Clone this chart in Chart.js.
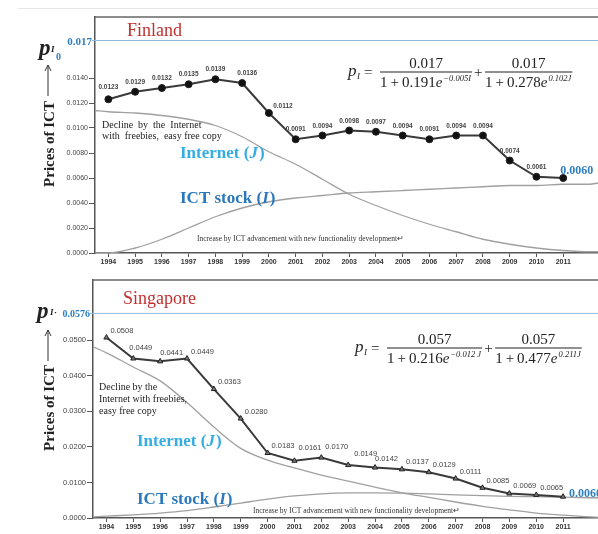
<!DOCTYPE html>
<html>
<head>
<meta charset="utf-8">
<script src="https://cdn.jsdelivr.net/npm/chart.js@4.4.1/dist/chart.umd.min.js"></script>
<style>
  html, body { margin: 0; padding: 0; background: #fff; }
  #wrap { position: relative; width: 598px; height: 534px; overflow: hidden; }
  #fin { position: absolute; left: 0; top: 0; }
  #sgp { position: absolute; left: 0; top: 268px; }
  .edge { position: absolute; left: 18px; right: 0; top: 8px; height: 1px; background: #e6e6e6; }
</style>
</head>
<body>
<div id="wrap">
  <div class="edge"></div>
  <canvas id="fin" width="598" height="268"></canvas>
  <canvas id="sgp" width="598" height="266"></canvas>
</div>
<script>
// years on the x axis
const years = [1994, 1995, 1996, 1997, 1998, 1999, 2000, 2001, 2002, 2003,
               2004, 2005, 2006, 2007, 2008, 2009, 2010, 2011];
// sample years for the two fitted curves (they run past the first and last year)
const curveYears = [1993.5, 1994, 1995, 1996, 1997, 1998, 1999, 2000, 2001, 2002, 2003,
                    2004, 2005, 2006, 2007, 2008, 2009, 2010, 2011, 2012, 2012.3];

// Finland
const finlandPrices   = [0.0123, 0.0129, 0.0132, 0.0135, 0.0139, 0.0136, 0.0112, 0.0091, 0.0094,
                         0.0098, 0.0097, 0.0094, 0.0091, 0.0094, 0.0094, 0.0074, 0.0061, 0.0060];
const finlandInternet = [0.0114, 0.0113, 0.0112, 0.0110, 0.0107, 0.0102, 0.0093, 0.0081, 0.0071, 0.0059,
                         0.0047, 0.0038, 0.0030, 0.0023, 0.0017, 0.0011, 0.0007, 0.0004, 0.0002, 0.0001, 0.0001];
const finlandStock    = [0.0000, 0.0000, 0.0004, 0.0011, 0.0020, 0.0029, 0.0036, 0.0041, 0.0044, 0.0046,
                         0.0048, 0.0049, 0.0050, 0.0051, 0.0052, 0.0053, 0.0054, 0.0054, 0.0055, 0.0055, 0.0056];
const finlandCeiling  = 0.017;
const finlandYTicks   = [0, 0.002, 0.004, 0.006, 0.008, 0.010, 0.012, 0.014];

// Singapore
const singaporePrices   = [0.0508, 0.0449, 0.0441, 0.0449, 0.0363, 0.0280, 0.0183, 0.0161, 0.0170,
                           0.0149, 0.0142, 0.0137, 0.0129, 0.0111, 0.0085, 0.0069, 0.0065, 0.0060];
const singaporeInternet = [0.0482, 0.0465, 0.0425, 0.0386, 0.0325, 0.0256, 0.0196, 0.0163, 0.0141, 0.0121,
                           0.0104, 0.0087, 0.0071, 0.0058, 0.0045, 0.0033, 0.0023, 0.0014, 0.0008, 0.0003, 0.0002];
const singaporeStock    = [0.0003, 0.0005, 0.0009, 0.0014, 0.0021, 0.0031, 0.0042, 0.0053, 0.0062, 0.0068,
                           0.0071, 0.0071, 0.0070, 0.0068, 0.0065, 0.0063, 0.0061, 0.0060, 0.0059, 0.0057, 0.0057];
const singaporeCeiling  = 0.0576;
const singaporeYTicks   = [0, 0.01, 0.02, 0.03, 0.04, 0.05];

const SERIF = '"Liberation Serif", "Times New Roman", serif';
const SANS  = '"Liberation Sans", Arial, sans-serif';
const BLUE  = '#2f7fc1';

function pairs(xs, ys) { return xs.map((x, i) => ({ x, y: ys[i] })); }

function text(ctx, s, x, y, font, color, align) {
  ctx.font = font;
  ctx.fillStyle = color || '#222';
  ctx.textAlign = align || 'left';
  ctx.textBaseline = 'alphabetic';
  ctx.fillText(s, x, y);
}

// one fraction  num / (base e^exp), returns its width
function fraction(ctx, left, bar, num, base, exp) {
  ctx.font = '15px ' + SERIF;
  const wb = ctx.measureText(base).width;
  ctx.font = 'italic 15px ' + SERIF;
  const we = ctx.measureText('e').width;
  ctx.font = 'italic 8.5px ' + SERIF;
  const wx = ctx.measureText(exp).width;
  const w = wb + we + wx + 2;
  text(ctx, base, left, bar + 15, '15px ' + SERIF, '#222');
  text(ctx, 'e', left + wb, bar + 15, 'italic 15px ' + SERIF, '#222');
  text(ctx, exp, left + wb + we + 1, bar + 9, 'italic 8.5px ' + SERIF, '#222');
  ctx.fillStyle = '#222';
  ctx.fillRect(left, bar - 0.5, w, 1);
  text(ctx, num, left + w / 2, bar - 4, '15px ' + SERIF, '#222', 'center');
  return w;
}

function formula(ctx, x, bar, num, b1, e1, b2, e2) {
  text(ctx, 'p', x, bar + 4, 'italic 17px ' + SERIF);
  text(ctx, 'I', x + 9, bar + 7, 'italic 9px ' + SERIF);
  text(ctx, '=', x + 16, bar + 5, '15px ' + SERIF);
  const l1 = x + 32;
  const w1 = fraction(ctx, l1, bar, num, b1, e1);
  text(ctx, '+', l1 + w1 + 2, bar + 5, '15px ' + SERIF);
  fraction(ctx, l1 + w1 + 13, bar, num, b2, e2);
}

function yTitle(ctx, cx, cy, arrowTop, arrowBottom) {
  ctx.save();
  ctx.translate(cx, cy);
  ctx.rotate(-Math.PI / 2);
  ctx.font = 'bold 15px ' + SERIF;
  ctx.fillStyle = '#222';
  ctx.textAlign = 'center';
  ctx.textBaseline = 'middle';
  ctx.fillText('Prices of ICT', 0, 0);
  ctx.restore();
  ctx.strokeStyle = '#333';
  ctx.lineWidth = 1;
  ctx.beginPath();
  ctx.moveTo(cx - 2, arrowBottom); ctx.lineTo(cx - 2, arrowTop);
  ctx.moveTo(cx - 5, arrowTop + 6); ctx.lineTo(cx - 2, arrowTop); ctx.lineTo(cx + 1, arrowTop + 6);
  ctx.stroke();
}

function frameTop(chart) {
  const { ctx, chartArea } = chart;
  ctx.save();
  ctx.strokeStyle = '#666';
  ctx.lineWidth = 1.5;
  ctx.beginPath();
  ctx.moveTo(chartArea.left, chartArea.top);
  ctx.lineTo(chartArea.right, chartArea.top);
  ctx.stroke();
  ctx.restore();
}

function ceilingLabel(chart, value, label, size) {
  const { ctx } = chart;
  const y = chart.scales.y.getPixelForValue(value);
  const left = chart.chartArea.left;
  text(ctx, label, left - 3, y + 4, 'bold ' + size + 'px ' + SERIF, BLUE, 'right');
  ctx.strokeStyle = '#8fb9df';
  ctx.lineWidth = 1;
  ctx.beginPath(); ctx.moveTo(left - 3, y); ctx.lineTo(left, y); ctx.stroke();
}

function priceLabels(chart, values, style) {
  const { ctx } = chart;
  const pts = chart.getDatasetMeta(0).data;
  const last = values.length - 1;
  values.forEach((v, i) => {
    const p = pts[i];
    const s = v.toFixed(4);
    if (i === last) {
      text(ctx, s, p.x + style.lastDx, p.y + style.lastDy, 'bold 12px ' + SERIF, BLUE, 'left');
      return;
    }
    const sh = (style.shift && style.shift[i]) || [0, 0];
    text(ctx, s, p.x + style.dx + sh[0], p.y + style.dy + sh[1], style.font, style.color, style.align);
  });
}

function baseConfig(o) {
  return {
    type: 'line',
    data: {
      datasets: [
        {
          data: pairs(years, o.prices),
          borderColor: '#3a3a3a', borderWidth: 2,
          pointStyle: o.pointStyle, pointRadius: o.pointRadius,
          pointBackgroundColor: o.pointFill, pointBorderColor: '#222', pointBorderWidth: 1,
          tension: 0
        },
        {
          data: pairs(curveYears, o.internet),
          borderColor: '#a0a0a0', borderWidth: 1.3, pointRadius: 0,
          cubicInterpolationMode: 'monotone'
        },
        {
          data: pairs(curveYears, o.stock),
          borderColor: '#a0a0a0', borderWidth: 1.3, pointRadius: 0,
          cubicInterpolationMode: 'monotone'
        },
        {
          data: [{ x: 1993.5, y: o.ceiling }, { x: 2012.3, y: o.ceiling }],
          borderColor: '#8fb9df', borderWidth: 1, pointRadius: 0
        }
      ]
    },
    options: {
      responsive: false,
      animation: false,
      events: [],
      layout: { autoPadding: false, padding: { top: o.top, left: 0, right: 0, bottom: 0 } },
      plugins: { legend: { display: false }, tooltip: { enabled: false } },
      scales: {
        x: {
          type: 'linear', min: 1993.5, max: 2012.3,
          afterBuildTicks: a => { a.ticks = years.map(v => ({ value: v })); },
          afterFit: a => { a.height = o.xHeight; },
          ticks: {
            callback: v => String(v), autoSkip: false, maxRotation: 0, padding: 1,
            color: '#333', font: { family: SANS, size: 7, weight: 'bold' }
          },
          grid: { drawOnChartArea: false, tickLength: 4, tickColor: '#555' },
          border: { color: '#555', width: 1.5 }
        },
        y: {
          type: 'linear', min: 0, max: o.yMax,
          afterBuildTicks: a => { a.ticks = o.yTicks.map(v => ({ value: v })); },
          afterFit: a => { a.width = o.yWidth; },
          ticks: {
            callback: v => v.toFixed(4), padding: 1,
            color: '#444', font: { family: SANS, size: o.yFont }
          },
          grid: { drawOnChartArea: false, tickLength: 6, tickColor: '#555' },
          border: { color: '#555', width: 1.5 }
        }
      }
    },
    plugins: [{ id: 'decor', afterDatasetsDraw: o.decor }]
  };
}

new Chart(document.getElementById('fin'), baseConfig({
  prices: finlandPrices, internet: finlandInternet, stock: finlandStock,
  ceiling: finlandCeiling, yTicks: finlandYTicks, yMax: 0.01888,
  top: 17, xHeight: 15, yWidth: 95, yFont: 7,
  pointStyle: 'circle', pointRadius: 3.5, pointFill: '#111',
  decor(chart) {
    const ctx = chart.ctx;
    ctx.save();
    frameTop(chart);
    text(ctx, 'Finland', 127, 36, '18px ' + SERIF, '#c0302e');
    ceilingLabel(chart, finlandCeiling, '0.017', 11);
    text(ctx, 'p', 39, 55, 'bold italic 23px ' + SERIF, '#222');
    text(ctx, 'I', 51, 52, 'bold italic 9px ' + SERIF, '#222');
    text(ctx, '0', 56, 60, 'bold 10px ' + SERIF, BLUE);
    yTitle(ctx, 50, 144, 65, 96);
    formula(ctx, 348, 72, '0.017', '1\u2009+\u20090.191', '\u22120.005I', '1\u2009+\u20090.278', '0.102J');
    text(ctx, 'Decline  by  the  Internet', 102, 128, '10px ' + SERIF, '#222');
    text(ctx, 'with  freebies,  easy free copy', 102, 139, '10px ' + SERIF, '#222');
    text(ctx, 'Internet (', 180, 158, 'bold 17px ' + SERIF, '#35ade3');
    ctx.font = 'bold 17px ' + SERIF;
    let w = ctx.measureText('Internet (').width;
    text(ctx, 'J', 180 + w, 158, 'bold italic 17px ' + SERIF, '#35ade3');
    w += ctx.measureText('J').width + 1;
    text(ctx, ')', 180 + w, 158, 'bold 17px ' + SERIF, '#35ade3');
    text(ctx, 'ICT stock (', 180, 203, 'bold 17px ' + SERIF, '#2a78bb');
    ctx.font = 'bold 17px ' + SERIF;
    w = ctx.measureText('ICT stock (').width;
    text(ctx, 'I', 180 + w, 203, 'bold italic 17px ' + SERIF, '#2a78bb');
    w += ctx.measureText('I').width + 1;
    text(ctx, ')', 180 + w, 203, 'bold 17px ' + SERIF, '#2a78bb');
    text(ctx, 'Increase by ICT advancement with new functionality development\u21b5', 197, 241, '7.5px ' + SERIF, '#333');
    priceLabels(chart, finlandPrices, {
      dx: 0, dy: -8, align: 'center', font: 'bold 6.5px ' + SANS, color: '#444',
      shift: { 0: [0, -2], 5: [5, 0], 6: [14, 3] },
      lastDx: -3, lastDy: -4
    });
    ctx.restore();
  }
}));

new Chart(document.getElementById('sgp'), baseConfig({
  prices: singaporePrices, internet: singaporeInternet, stock: singaporeStock,
  ceiling: singaporeCeiling, yTicks: singaporeYTicks, yMax: 0.067,
  top: 12, xHeight: 16, yWidth: 93, yFont: 7.5,
  pointStyle: 'triangle', pointRadius: 3, pointFill: '#777',
  decor(chart) {
    const ctx = chart.ctx;
    ctx.save();
    frameTop(chart);
    text(ctx, 'Singapore', 123, 36, '18px ' + SERIF, '#c0302e');
    ceilingLabel(chart, singaporeCeiling, '0.0576', 10);
    text(ctx, 'p', 37, 50, 'bold italic 23px ' + SERIF, '#222');
    text(ctx, 'I', 50, 47, 'bold italic 9px ' + SERIF, '#222');
    text(ctx, '\u00b7', 54, 47, 'bold 9px ' + SERIF, '#222');
    yTitle(ctx, 50, 140, 62, 93);
    formula(ctx, 355, 80, '0.057', '1\u2009+\u20090.216', '\u22120.012 J', '1\u2009+\u20090.477', '0.211J');
    text(ctx, 'Decline by the', 99, 122, '10px ' + SERIF, '#222');
    text(ctx, 'Internet with freebies,', 99, 134, '10px ' + SERIF, '#222');
    text(ctx, 'easy free copy', 99, 146, '10px ' + SERIF, '#222');
    text(ctx, 'Internet (', 137, 178, 'bold 17px ' + SERIF, '#35ade3');
    ctx.font = 'bold 17px ' + SERIF;
    let w = ctx.measureText('Internet (').width;
    text(ctx, 'J', 137 + w, 178, 'bold italic 17px ' + SERIF, '#35ade3');
    w += ctx.measureText('J').width + 1;
    text(ctx, ')', 137 + w, 178, 'bold 17px ' + SERIF, '#35ade3');
    text(ctx, 'ICT stock (', 137, 236, 'bold 17px ' + SERIF, '#2a78bb');
    ctx.font = 'bold 17px ' + SERIF;
    w = ctx.measureText('ICT stock (').width;
    text(ctx, 'I', 137 + w, 236, 'bold italic 17px ' + SERIF, '#2a78bb');
    w += ctx.measureText('I').width + 1;
    text(ctx, ')', 137 + w, 236, 'bold 17px ' + SERIF, '#2a78bb');
    text(ctx, 'Increase by ICT advancement with new functionality development\u21b5', 253, 245, '7.5px ' + SERIF, '#333');
    priceLabels(chart, singaporePrices, {
      dx: 4, dy: -5, align: 'left', font: '7.5px ' + SANS, color: '#444',
      shift: { 1: [-8, -4], 2: [-4, -1], 7: [0, -6], 8: [0, -4], 9: [2, -4], 10: [-4, -2] },
      lastDx: 6, lastDy: 0
    });
    ctx.restore();
  }
}));
</script>
</body>
</html>
